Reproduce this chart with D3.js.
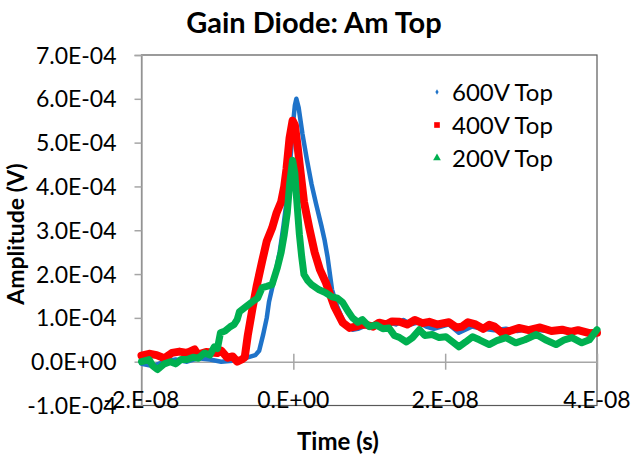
<!DOCTYPE html>
<html><head><meta charset="utf-8">
<script src="https://cdn.jsdelivr.net/npm/d3@7/dist/d3.min.js"></script>
<style>body{margin:0;background:#fff;} text{font-family:Lato,"Open Sans",sans-serif;}</style>
</head><body><svg id="c" width="633" height="455"></svg>
<script>
// Time in ns, amplitude in units of 1e-4 V
const NS = 1e-9, AMP = 1e-4;
const seriesNames = ["600V Top", "400V Top", "200V Top"];
const xTickValues = [-2e-8, 0, 2e-8, 4e-8];
const xTickLabels = ["-2.E-08", "0.E+00", "2.E-08", "4.E-08"];
const yTickValues = [-1e-4, 0, 1e-4, 2e-4, 3e-4, 4e-4, 5e-4, 6e-4, 7e-4];
const yTickLabels = ["-1.0E-04","0.0E+00","1.0E-04","2.0E-04","3.0E-04","4.0E-04","5.0E-04","6.0E-04","7.0E-04"];

const t600 = [-20,-18.5,-17,-15.5,-14,-12.5,-11,-9.5,-8,-7,-6,-5,-4.5,-4,-3.5,-3.2,-2.5,-1.8,-1.3,-0.9,-0.6,-0.3,0,0.2,0.4,0.7,1.2,1.8,2.4,3,3.7,4.1,4.5,5.1,5.8,6.5,7.2,7.8,8.5,9.5,10.5,11.5,12.5,13.5,14.5,15.5,16.5,17.5,18.5,19.5,20.5,21.8,23.5,25,26.5,28,29.5,31,32.5,34,35.5,37,38.5,40];
const v600 = [-0.05,-0.1,0,0.05,0,0.08,0.05,0,0.02,0.05,0.1,0.15,0.25,0.6,1.0,1.37,1.9,2.5,3.1,3.65,4.2,4.8,5.5,5.85,6.0,5.8,5.2,4.6,4.05,3.6,3.1,2.79,2.4,1.64,1.25,0.96,0.8,0.73,0.75,0.82,0.8,0.85,0.9,0.85,0.95,0.85,0.9,0.8,0.75,0.8,0.85,0.66,0.8,0.75,0.72,0.75,0.7,0.75,0.72,0.7,0.75,0.7,0.68,0.68];

const t400 = [-20,-19,-18,-17,-16,-15,-14,-13,-12.6,-11.5,-10,-9.5,-8.7,-8,-7.4,-6.8,-6.4,-6,-5.4,-4.8,-4.1,-3.5,-2.8,-2.2,-1.6,-1.2,-0.9,-0.5,-0.1,0.2,0.5,0.9,1.4,2.1,2.8,3.5,4.3,5.4,6.5,7.4,8.2,9,9.6,10.5,11.3,12.2,13,14,15,16,17,17.9,19,20.5,21.5,22.2,23,24,25,25.8,26.5,27.5,28.5,29.7,31,32.5,34,35.4,36.5,37.5,39,40];
const v400 = [0.14,0.18,0.15,0.08,0.2,0.23,0.2,0.28,0.16,0.22,0.2,0.25,0.09,0.12,0,0.05,0.1,0.6,1.2,1.75,2.3,2.75,3.05,3.4,3.65,4.0,4.4,5.1,5.5,5.4,5.0,4.4,3.65,3.05,2.5,2.1,1.8,1.26,0.89,0.77,0.8,0.85,0.84,0.8,0.89,0.85,0.92,0.91,0.85,0.95,0.88,0.91,0.85,0.9,0.78,0.8,0.9,0.85,0.75,0.84,0.8,0.66,0.7,0.77,0.72,0.78,0.7,0.73,0.68,0.72,0.65,0.66];

const t200 = [-20,-19,-18.5,-17.9,-17,-16.2,-15.5,-14.8,-14,-13.2,-12.5,-11.7,-11,-10.4,-10,-9.6,-9,-8.3,-7.8,-7.4,-7.1,-6.3,-5.4,-4.7,-4.1,-3.5,-2.8,-2.1,-1.6,-1.2,-0.8,-0.5,-0.1,0.2,0.4,0.8,1.1,1.4,1.9,2.4,3.4,4.2,5.1,5.8,6.5,7.2,7.8,8.5,9.1,10,10.9,11.8,12.6,13.3,14,14.9,15.7,16.6,17.3,18.3,19.2,20.1,21,21.8,22.7,23.6,24.5,25.8,26.8,28,29.3,30.5,32,33.2,34.6,35.7,36.7,38,39,40];
const v200 = [0,0.05,-0.1,-0.18,-0.05,0,-0.05,0.05,0.05,0.1,0.08,0.2,0.15,0.34,0.3,0.66,0.7,0.8,0.85,0.96,1.14,1.25,1.37,1.45,1.69,1.72,1.76,2.15,2.5,2.9,3.4,4.04,4.6,4.3,3.8,2.9,2.4,1.99,1.85,1.76,1.64,1.58,1.48,1.45,1.35,1.15,1.0,0.9,0.96,0.8,0.84,0.75,0.77,0.6,0.55,0.45,0.55,0.73,0.6,0.62,0.55,0.57,0.45,0.34,0.45,0.57,0.5,0.39,0.48,0.55,0.43,0.5,0.62,0.5,0.39,0.5,0.55,0.43,0.5,0.73];

const svg = d3.select("#c");
const L = 141.5, R = 597, T = 55, B = 405.5;
const x = d3.scaleLinear().domain([-2e-8, 4e-8]).range([L, R]);
const y = d3.scaleLinear().domain([-1e-4, 7e-4]).range([B, T]);

// plot area border
svg.append("rect").attr("x", L).attr("y", T).attr("width", R - L).attr("height", B - T)
  .attr("fill", "none").attr("stroke", "#595959").attr("stroke-width", 1.2);

// y axis
const yAxis = d3.axisLeft(y).tickValues(yTickValues).tickSize(7).tickPadding(18)
  .tickFormat((d, i) => yTickLabels[i]);
const gy = svg.append("g").attr("transform", `translate(${L},0)`).call(yAxis);
gy.select(".domain").attr("stroke", "#a6a6a6").attr("stroke-width", 1.5);
gy.selectAll(".tick line").attr("stroke", "#a6a6a6").attr("stroke-width", 1.5);
gy.selectAll(".tick text").attr("font-size", 23).attr("fill", "#000").attr("font-family", "Lato").attr("dy", "0.35em");

// x axis at y=0 with crossing ticks
const xAxis = d3.axisBottom(x).tickValues(xTickValues).tickSize(0).tickFormat("");
const gx = svg.append("g").attr("transform", `translate(0,${y(0)})`).call(xAxis);
gx.select(".domain").attr("stroke", "#a6a6a6").attr("stroke-width", 1.5);
gx.selectAll(".tick").append("line").attr("y1", -8).attr("y2", 8).attr("stroke", "#a6a6a6").attr("stroke-width", 1.5);
// x tick labels at low position
svg.append("g").selectAll("text").data(xTickValues).join("text")
  .attr("x", d => x(d)).attr("y", 408).attr("text-anchor", "middle")
  .attr("font-size", 23).attr("fill", "#000").text((d, i) => xTickLabels[i]);

// series
const colors = ["#1f73c9", "#ff0000", "#00b050"];
const widths = [4.5, 8, 7];
const data = [
  t600.map((t, i) => [t * NS, v600[i] * AMP]),
  t400.map((t, i) => [t * NS, v400[i] * AMP]),
  t200.map((t, i) => [t * NS, v200[i] * AMP])
];
const line = d3.line().x(d => x(d[0])).y(d => y(d[1]));
data.forEach((d, i) => {
  svg.append("path").datum(d).attr("d", line).attr("fill", "none")
    .attr("stroke", colors[i]).attr("stroke-width", widths[i])
    .attr("stroke-linejoin", "round").attr("stroke-linecap", "round");
});

// legend
const legY = [92, 125, 158];
const lg = svg.append("g");
const sym = [d3.symbolDiamond, d3.symbolSquare, d3.symbolTriangle];
const symSize = [9, 32, 26];
seriesNames.forEach((n, i) => {
  lg.append("path").attr("d", d3.symbol().type(sym[i]).size(symSize[i])())
    .attr("transform", `translate(437,${legY[i]})`).attr("fill", colors[i]);
  lg.append("text").attr("x", 452).attr("y", legY[i]).attr("dy", "0.36em")
    .attr("font-size", 24).attr("fill", "#000").text(n);
});

// titles
svg.append("text").attr("x", 314).attr("y", 33).attr("text-anchor", "middle")
  .attr("font-size", 29).attr("font-weight", "bold").attr("fill", "#000").text("Gain Diode: Am Top");
svg.append("text").attr("x", 338).attr("y", 450).attr("text-anchor", "middle")
  .attr("font-size", 24).attr("font-weight", "bold").attr("fill", "#000").text("Time (s)");
svg.append("text").attr("transform", "translate(24,234) rotate(-90)").attr("text-anchor", "middle")
  .attr("font-size", 23).attr("font-weight", "bold").attr("fill", "#000").text("Amplitude (V)");
</script></body></html>
